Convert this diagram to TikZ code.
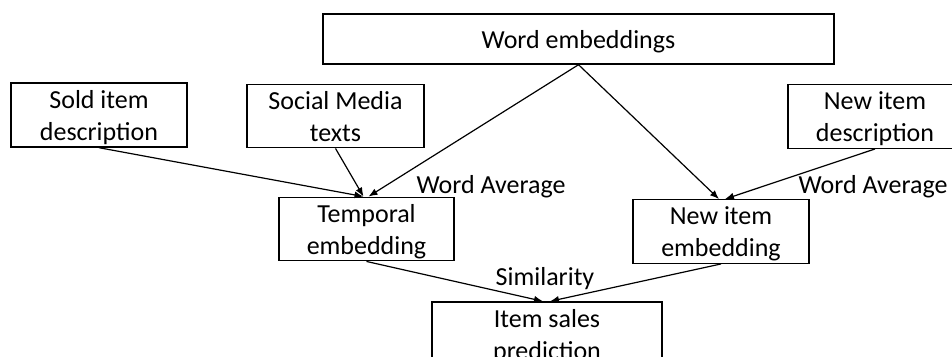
\documentclass[tikz,border=0pt]{standalone}
\usepackage{fontspec}
\setmainfont{Carlito}
\usetikzlibrary{arrows.meta}
% line strut: ascent plus line gap above, descent below
\newcommand\lnstrut{\rule[-6.5pt]{0pt}{31.5pt}}
\begin{document}
\begin{tikzpicture}[x=1pt,y=-1pt,
  box/.style={draw, line width=1.4pt, inner sep=0pt, align=center,
    font=\fontsize{26}{32}\selectfont},
  lbl/.style={inner sep=0pt, anchor=base, font=\fontsize{26}{32}\selectfont},
  flow/.style={line width=1.2pt, -{Latex[length=9pt,width=7pt]}}]
  \useasboundingbox (0,0) rectangle (952,356);
  \clip (0,0) rectangle (952,356);

  % sources
  \node[box, minimum width=511pt, minimum height=50pt] (we) at (578.5,39) {\lnstrut Word embeddings};
  \node[box, minimum width=176pt, minimum height=64pt] (sold) at (99,115) {\lnstrut Sold item\\\lnstrut description};
  \node[box, minimum width=177pt, minimum height=62pt] (social) at (335.5,116) {\lnstrut Social Media\\\lnstrut texts};
  \node[box, minimum width=174pt, minimum height=61pt] (newdesc) at (875,116.5) {\lnstrut New item\\\lnstrut description};

  % embeddings
  \node[box, minimum width=175pt, minimum height=62pt] (temporal) at (366.5,229) {\lnstrut Temporal\\\lnstrut embedding};
  \node[box, minimum width=176pt, minimum height=63pt] (newemb) at (721,231.5) {\lnstrut New item\\\lnstrut embedding};

  % output
  \node[box, minimum width=230pt, minimum height=64pt] (sales) at (547,334) {\lnstrut Item sales\\\lnstrut prediction};

  % connectors
  \draw[flow] (sold.south) -- ([xshift=-3pt]temporal.north);
  \draw[flow] (social.south) -- ([xshift=-3pt]temporal.north);
  \draw[flow] (we.south) -- ([xshift=2pt]temporal.north);
  \draw[flow] (we.south) -- ([xshift=-2pt]newemb.north);
  \draw[flow] (newdesc.south) -- ([xshift=4pt]newemb.north);
  \draw[flow] (temporal.south) -- ([xshift=-4pt]sales.north);
  \draw[flow] (newemb.south) -- ([xshift=3pt]sales.north);

  % labels
  \node[lbl] (avgL) at (491,193) {Word Average};
  \node[lbl] (avgR) at (873,193) {Word Average};
  \node[lbl] (sim) at (545,285) {Similarity};
\end{tikzpicture}
\end{document}
